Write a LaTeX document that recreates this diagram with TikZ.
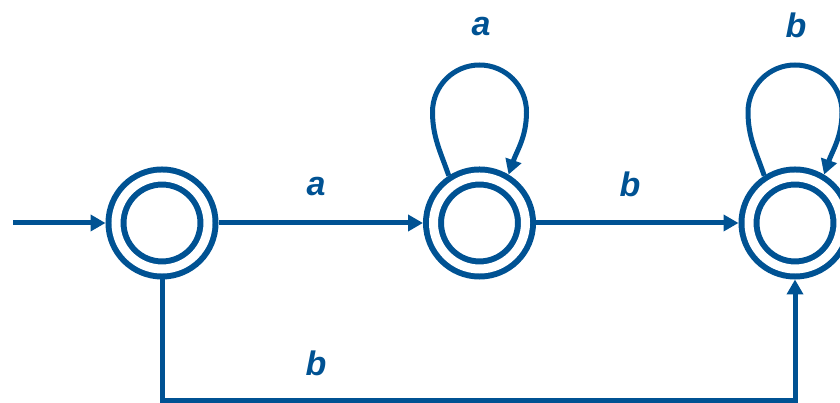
\documentclass[tikz,border=0pt]{standalone}
\usepackage{fontspec}
\setmainfont{Liberation Sans}
\usetikzlibrary{arrows.meta}
\definecolor{fsa}{RGB}{0,82,147}
\begin{document}
\begin{tikzpicture}[x=1pt,y=1pt,
  state/.style={circle,draw=fsa,line width=6pt,double=white,double distance=9pt,
    minimum size=92pt,inner sep=0pt,outer sep=10.5pt},
  edge/.style={draw=fsa,line width=5pt,-{Triangle[length=15pt,width=16pt]}},
  lab/.style={text=fsa,font=\fontsize{34}{40}\selectfont\bfseries\itshape,inner sep=0pt}]
\useasboundingbox (0,0) rectangle (840,403);
\node[state] (s1) at (162,180) {};
\node[state] (s2) at (479.5,180) {};
\node[state] (s3) at (795,180) {};
\coordinate (start) at (13,180);
\coordinate (low) at (162,2.5);
\draw[edge] (start) -- (s1);
\draw[edge] (s1) -- (s2);
\draw[edge] (s2) -- (s3);
\draw[edge] (s1.south) -- (low) -| (s3.south);
\draw[edge] (s2.123) .. controls +(109:25) and +(-90:25) .. ([xshift=-47pt,yshift=111pt]s2.center)
  arc[start angle=180,end angle=0,radius=47] .. controls +(-90:25) and +(71:25) .. (s2.59);
\draw[edge] (s3.123) .. controls +(109:25) and +(-90:25) .. ([xshift=-47pt,yshift=111pt]s3.center)
  arc[start angle=180,end angle=0,radius=47] .. controls +(-90:25) and +(71:25) .. (s3.59);
\node[lab] (la1) at (316,216) {a};
\node[lab] (lb1) at (630,219) {b};
\node[lab] (la2) at (481,376) {a};
\node[lab] (lb2) at (796,378) {b};
\node[lab] (lb3) at (316,40) {b};
\end{tikzpicture}
\end{document}
